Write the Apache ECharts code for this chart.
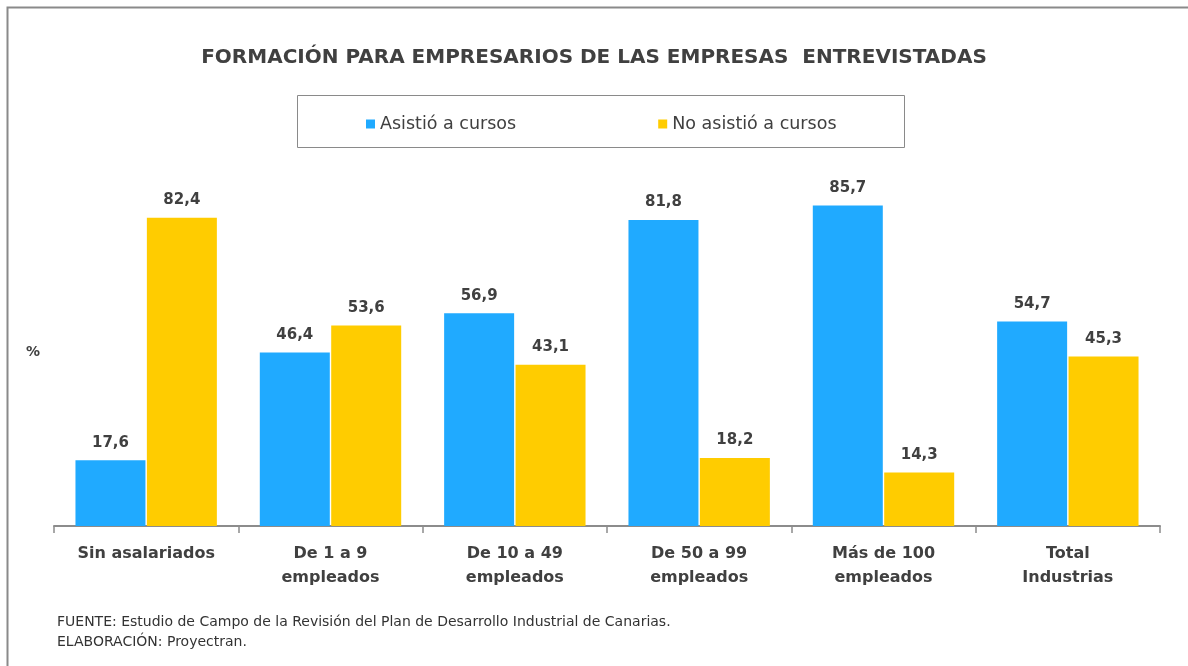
<!DOCTYPE html>
<html>
<head>
<meta charset="utf-8">
<script src="https://cdn.jsdelivr.net/npm/echarts@6/dist/echarts.min.js"></script>
<style>
  html, body { margin: 0; padding: 0; background: #fff; }
  #chart { width: 1188px; height: 666px; }
</style>
</head>
<body>
<div id="chart"></div>
<script>
// datos
var categorias = ['Sin asalariados', 'De 1 a 9\nempleados', 'De 10 a 49\nempleados',
    'De 50 a 99\nempleados', 'Más de 100\nempleados', 'Total\nIndustrias'];
var asistio = [17.6, 46.4, 56.9, 81.8, 85.7, 54.7];
var noAsistio = [82.4, 53.6, 43.1, 18.2, 14.3, 45.3];
var nombresSeries = ['Asistió a cursos', 'No asistió a cursos'];

var fuente = '"DejaVu Sans", "Open Sans", sans-serif';
var gris = '#404040';

var chart = echarts.init(document.getElementById('chart'));

function etiqueta(p) {
    return p.value.toFixed(1).replace('.', ',');
}

var option = {
    backgroundColor: '#fff',
    animation: false,
    title: {
        text: 'FORMACIÓN PARA EMPRESARIOS DE LAS EMPRESAS  ENTREVISTADAS',
        left: 'center',
        top: 43,
        textStyle: { fontFamily: fuente, fontSize: 20, fontWeight: 'bold', color: gris }
    },
    legend: {
        data: nombresSeries,
        left: 361,
        top: 110,
        icon: 'rect',
        itemWidth: 9,
        itemHeight: 9,
        itemGap: 142,
        textStyle: { fontFamily: fuente, fontSize: 17.5, color: gris }
    },
    grid: { left: 54, right: 28, top: 152, bottom: 140 },
    xAxis: {
        type: 'category',
        data: categorias,
        axisLine: { lineStyle: { color: '#8c8c8c', width: 2 } },
        axisTick: { show: true, length: 7, lineStyle: { color: '#8c8c8c', width: 1.5 } },
        axisLabel: {
            margin: 16,
            fontFamily: fuente,
            fontSize: 16,
            fontWeight: 'bold',
            color: gris,
            lineHeight: 24,
            interval: 0
        }
    },
    yAxis: {
        type: 'value',
        min: 0,
        max: 100,
        show: false,
        splitLine: { show: false }
    },
    series: [
        {
            name: nombresSeries[0],
            type: 'bar',
            data: asistio,
            barWidth: 70,
            barGap: '2%',
            itemStyle: { color: '#20aaff' },
            label: {
                show: true, position: 'top', distance: 10, formatter: etiqueta,
                fontFamily: fuente, fontSize: 15, fontWeight: 'bold', color: gris
            }
        },
        {
            name: nombresSeries[1],
            type: 'bar',
            data: noAsistio,
            barWidth: 70,
            itemStyle: { color: '#ffcc00' },
            label: {
                show: true, position: 'top', distance: 10, formatter: etiqueta,
                fontFamily: fuente, fontSize: 15, fontWeight: 'bold', color: gris
            }
        }
    ],
    graphic: [
        {
            type: 'rect',
            shape: { x: 7.5, y: 7.5, width: 1200, height: 700 },
            style: { fill: null, stroke: '#8a8a8a', lineWidth: 2 },
            silent: true
        },
        {
            type: 'rect',
            shape: { x: 297.5, y: 95.5, width: 607, height: 52 },
            style: { fill: null, stroke: '#8a8a8a', lineWidth: 1 },
            silent: true
        },
        {
            type: 'text',
            left: 26,
            top: 345,
            style: { text: '%', fontFamily: fuente, fontSize: 14, fontWeight: 'bold', fill: gris }
        },
        {
            type: 'text',
            left: 57,
            top: 612,
            style: {
                text: 'FUENTE: Estudio de Campo de la Revisión del Plan de Desarrollo Industrial de Canarias.\nELABORACIÓN: Proyectran.',
                fontFamily: fuente, fontSize: 14, lineHeight: 20, fill: '#333'
            }
        }
    ]
};

chart.setOption(option);
</script>
</body>
</html>
